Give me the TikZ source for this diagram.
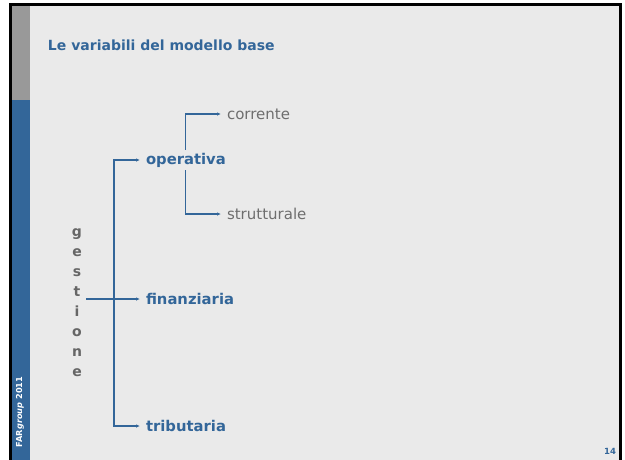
\documentclass[tikz,border=0pt]{standalone}
\usepackage{fontspec}
\setmainfont{DejaVu Sans}
\usetikzlibrary{positioning, arrows.meta}
\definecolor{slidebg}{HTML}{EAEAEA}
\definecolor{farblue}{HTML}{336699}
\definecolor{stripgray}{HTML}{999999}
\definecolor{txtgray}{HTML}{666666}
\definecolor{subgray}{HTML}{6E6E6E}
\tikzset{
    x=1pt, y=-1pt, % pixel-like units, y going down
    every node/.style={inner sep=0pt, outer sep=0pt},
    branch/.style={ % main variables
        anchor=west, text=farblue, font=\bfseries\fontsize{14.8}{17}\selectfont
    },
    leaf/.style={ % sub variables
        anchor=west, text=subgray, font=\fontsize{15}{17}\selectfont
    },
    tip/.style={Latex[length=4pt,width=3.5pt]},
    link/.style={ % connectors
        draw=farblue, line width=1.1pt, -{Latex[length=4pt,width=3.5pt]}
    }
}
\begin{document}
\begin{tikzpicture}
    \useasboundingbox (0,0) rectangle (625,459);
    % slide
    \fill[white] (0,0) rectangle (625,459);
    \fill[slidebg] (10,4) rectangle (621,465);
    \fill[stripgray] (12,5) rectangle (30,100);
    \fill[farblue] (12,100) rectangle (30,465);
    \draw[black, line width=3pt] (10.5,4.5) rectangle (620.5,470);
    % title
    \node[anchor=west, text=farblue, font=\bfseries\fontsize{14}{16}\selectfont] (title) at (48,45) {Le variabili del modello base};
    % variables
    \node[branch] (op) at (146,160) {operativa};
    \node[branch] (fin) at (146,299) {finanziaria};
    \node[branch] (trib) at (146,426) {tributaria};
    \node[leaf] (cor) at (227,114) {corrente};
    \node[leaf] (str) at (227,214) {strutturale};
    \node[text=txtgray, font=\bfseries\fontsize{14}{20}\selectfont, align=center] (ges) at (77,303)
        {g\\e\\s\\t\\i\\o\\n\\e};
    \coordinate (spine) at (114,0);
    % connectors
    \draw[link, {Latex[length=4pt,width=3.5pt]}-{Latex[length=4pt,width=3.5pt]}]
        ([xshift=-6pt]op.west) -- (spine |- op.west) -- (spine |- trib.west) -- ([xshift=-6pt]trib.west);
    \draw[link] ([xshift=4pt]ges.east |- fin.west) -- ([xshift=-6pt]fin.west);
    \draw[link] ([yshift=3pt]op.north) -- (op.north |- cor.west) -- ([xshift=-6pt]cor.west);
    \draw[link] ([yshift=-3pt]op.south) -- (op.south |- str.west) -- ([xshift=-6pt]str.west);
    % footer
    \node[rotate=90, text=white, font=\bfseries\fontsize{8.2}{9}\selectfont] (brand) at (20,412) {FAR\textit{group} 2011};
    \node[text=farblue, font=\bfseries\fontsize{8.5}{9}\selectfont] (page) at (610,451) {14};
\end{tikzpicture}
\end{document}
